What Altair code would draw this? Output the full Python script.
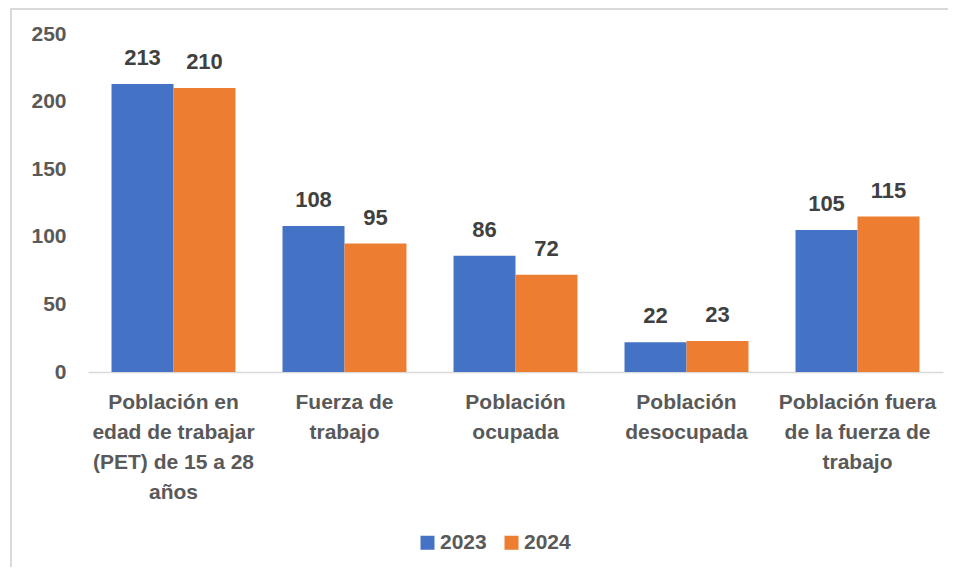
import altair as alt
import pandas as pd

categories = [
    "Población en\nedad de trabajar\n(PET) de 15 a 28\naños",
    "Fuerza de\ntrabajo",
    "Población\nocupada",
    "Población\ndesocupada",
    "Población fuera\nde la fuerza de\ntrabajo",
]
years = ["2023", "2024"]
values_2023 = [213, 108, 86, 22, 105]
values_2024 = [210, 95, 72, 23, 115]

rows = []
for c, a, b in zip(categories, values_2023, values_2024):
    rows.append({"cat": c, "year": "2023", "value": a})
    rows.append({"cat": c, "year": "2024", "value": b})
df = pd.DataFrame(rows)

FONT = "Liberation Sans"
GRAY = "#595959"

color = alt.Color(
    "year:N",
    scale=alt.Scale(domain=years, range=["#4472C4", "#ED7D31"]),
    legend=alt.Legend(
        title=None, orient="none", direction="horizontal",
        legendX=329, legendY=498, symbolType="square", symbolSize=196,
        symbolStrokeWidth=0, labelFontSize=21, labelFont=FONT,
        labelFontWeight="bold", labelColor=GRAY, columnPadding=14,
        labelOffset=2,
    ),
)

x = alt.X(
    "cat:N", sort=categories, title=None,
    scale=alt.Scale(paddingInner=0.275, paddingOuter=0.1375),
    axis=alt.Axis(
        labelAngle=0, labelExpr="split(datum.value, '\\n')",
        labelFont=FONT, labelFontSize=21, labelFontWeight="bold",
        labelColor=GRAY, labelLineHeight=30, labelPadding=19,
        ticks=False, domainColor="#D9D9D9", domainWidth=1.3, labelLimit=300,
    ),
)
yscale = alt.Scale(domain=[0, 250], nice=False)
y = alt.Y(
    "value:Q", title=None, scale=yscale,
    axis=alt.Axis(
        values=[0, 50, 100, 150, 200, 250], grid=False, ticks=False,
        domain=False, labelFont=FONT, labelFontSize=21,
        labelFontWeight="bold", labelColor=GRAY, labelPadding=22,
    ),
)

base = alt.Chart(df).encode(x=x, xOffset=alt.XOffset("year:N", sort=years))

bars = base.mark_bar().encode(y=y, color=color)
labels = base.mark_text(
    dy=-26, font=FONT, fontSize=22, fontWeight="bold", color="#404040"
).encode(y=alt.Y("value:Q", scale=yscale), text=alt.Text("value:Q"))

frame = alt.Chart(df).mark_rect(
    fill=None, stroke="#D9D9D9", strokeWidth=2
).encode(
    x=alt.value(-77), x2=alt.value(867), y=alt.value(-25), y2=alt.value(600)
)

chart = alt.layer(frame, bars, labels).properties(
    width=855, height=338,
    padding={"left": 80, "top": 26, "right": 5, "bottom": 195},
    autosize=alt.AutoSizeParams(type="none"),
).configure_view(stroke=None)

chart.save("out.html", embed_options={"renderer": "svg", "actions": False})
